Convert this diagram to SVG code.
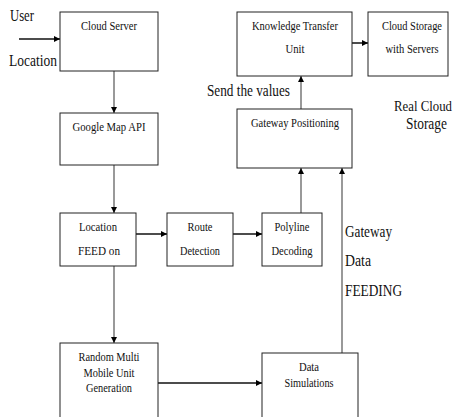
<svg xmlns="http://www.w3.org/2000/svg" width="458" height="417" viewBox="0 0 458 417">
<style>
.box{fill:#fff;stroke:#222;stroke-width:1}
.t{font-family:'Liberation Serif','DejaVu Serif',serif;font-size:13px;fill:#111;text-anchor:middle}
.o{font-family:'Liberation Serif','DejaVu Serif',serif;font-size:16px;fill:#111}
.v{stroke:#777;stroke-width:1.5;fill:none}
.h{stroke:#111;stroke-width:1.5;fill:none}
</style>
<defs>
<marker id="ah" viewBox="0 0 10 10" refX="10" refY="5" markerWidth="6" markerHeight="6" markerUnits="userSpaceOnUse" orient="auto">
<path d="M0,0 L10,5 L0,10 z" fill="#000"/>
</marker>
</defs>
<rect width="458" height="417" fill="#fff"/>
<g id="connectors">
<line class="h" x1="19" y1="39" x2="60" y2="39" marker-end="url(#ah)"/>
<line class="v" x1="114" y1="71" x2="114" y2="113" marker-end="url(#ah)"/>
<line class="v" x1="114" y1="165" x2="114" y2="213" marker-end="url(#ah)"/>
<line class="h" x1="136" y1="234" x2="167" y2="234" marker-end="url(#ah)"/>
<line class="h" x1="233" y1="234" x2="262" y2="234" marker-end="url(#ah)"/>
<line class="v" x1="114" y1="266" x2="114" y2="343" marker-end="url(#ah)"/>
<line class="h" x1="158" y1="383" x2="262" y2="383" marker-end="url(#ah)"/>
<line class="v" x1="301" y1="213" x2="301" y2="168" marker-end="url(#ah)"/>
<line class="v" x1="342" y1="353" x2="342" y2="168" marker-end="url(#ah)"/>
<line class="v" x1="301" y1="109" x2="301" y2="76" marker-end="url(#ah)"/>
<line class="h" x1="352" y1="43" x2="368" y2="43" marker-end="url(#ah)"/>
</g>
<g id="labels">
<text class="o" x="10" y="21" textLength="24" lengthAdjust="spacingAndGlyphs">User</text>
<text class="o" x="9" y="66" textLength="48" lengthAdjust="spacingAndGlyphs">Location</text>
<text class="o" x="207" y="96" textLength="83" lengthAdjust="spacingAndGlyphs">Send the values</text>
<text class="o" x="394" y="111" style="font-size:14px" textLength="58" lengthAdjust="spacingAndGlyphs">Real Cloud</text>
<text class="o" x="406" y="129" textLength="41" lengthAdjust="spacingAndGlyphs">Storage</text>
<text class="o" x="345" y="237" textLength="47" lengthAdjust="spacingAndGlyphs">Gateway</text>
<text class="o" x="345" y="266" textLength="26" lengthAdjust="spacingAndGlyphs">Data</text>
<text class="o" x="345" y="296" textLength="57" lengthAdjust="spacingAndGlyphs">FEEDING</text>
</g>
<g id="cloud-server">
<rect class="box" x="60" y="12" width="98" height="59"/>
<text class="t" x="109" y="30" textLength="56" lengthAdjust="spacingAndGlyphs">Cloud Server</text>
</g>
<g id="google-map-api">
<rect class="box" x="60" y="113" width="98" height="52"/>
<text class="t" x="109" y="131" textLength="73" lengthAdjust="spacingAndGlyphs">Google Map API</text>
</g>
<g id="location-feed">
<rect class="box" x="60" y="213" width="76" height="53"/>
<text class="t" x="98" y="231" textLength="38" lengthAdjust="spacingAndGlyphs">Location</text>
<text class="t" x="99" y="255" textLength="42" lengthAdjust="spacingAndGlyphs">FEED on</text>
</g>
<g id="route-detection">
<rect class="box" x="167" y="213" width="66" height="53"/>
<text class="t" x="200" y="231" textLength="25" lengthAdjust="spacingAndGlyphs">Route</text>
<text class="t" x="200" y="255" textLength="40" lengthAdjust="spacingAndGlyphs">Detection</text>
</g>
<g id="polyline-decoding">
<rect class="box" x="262" y="213" width="60" height="53"/>
<text class="t" x="292" y="231" textLength="35" lengthAdjust="spacingAndGlyphs">Polyline</text>
<text class="t" x="292" y="255" textLength="41" lengthAdjust="spacingAndGlyphs">Decoding</text>
</g>
<g id="random-multi">
<rect class="box" x="60" y="343" width="98" height="76"/>
<text class="t" x="109" y="361" textLength="61" lengthAdjust="spacingAndGlyphs">Random Multi</text>
<text class="t" x="109" y="377" textLength="51" lengthAdjust="spacingAndGlyphs">Mobile Unit</text>
<text class="t" x="109" y="392" textLength="46" lengthAdjust="spacingAndGlyphs">Generation</text>
</g>
<g id="data-simulations">
<rect class="box" x="262" y="353" width="96" height="66"/>
<text class="t" x="309" y="371" textLength="20" lengthAdjust="spacingAndGlyphs">Data</text>
<text class="t" x="309" y="387" textLength="49" lengthAdjust="spacingAndGlyphs">Simulations</text>
</g>
<g id="gateway-positioning">
<rect class="box" x="237" y="109" width="115" height="59"/>
<text class="t" x="295" y="127" textLength="88" lengthAdjust="spacingAndGlyphs">Gateway Positioning</text>
</g>
<g id="knowledge-transfer">
<rect class="box" x="237" y="12" width="115" height="64"/>
<text class="t" x="295" y="30" textLength="86" lengthAdjust="spacingAndGlyphs">Knowledge Transfer</text>
<text class="t" x="295" y="53" textLength="19" lengthAdjust="spacingAndGlyphs">Unit</text>
</g>
<g id="cloud-storage">
<rect class="box" x="368" y="12" width="80" height="64"/>
<text class="t" x="412" y="30" textLength="60" lengthAdjust="spacingAndGlyphs">Cloud Storage</text>
<text class="t" x="412" y="53" textLength="53" lengthAdjust="spacingAndGlyphs">with Servers</text>
</g>
</svg>
